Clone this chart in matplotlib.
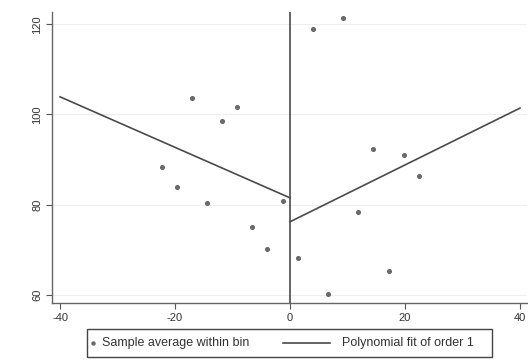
import matplotlib
matplotlib.use("Agg")
import matplotlib.pyplot as plt
from matplotlib.lines import Line2D
from matplotlib.patches import Rectangle

plt.rcParams['font.family'] = ['Liberation Sans', 'DejaVu Sans']

# Bin averages on each side of the cutoff
left_x = [-22.3, -19.7, -17.0, -14.4, -11.8, -9.2, -6.6, -4.0, -1.2]
left_y = [88.3, 83.9, 103.6, 80.4, 98.5, 101.6, 75.1, 70.2, 80.8]
right_x = [1.4, 4.0, 6.6, 9.2, 11.8, 14.4, 17.2, 19.8, 22.4]
right_y = [68.2, 118.9, 60.2, 121.4, 78.4, 92.3, 65.3, 91.0, 86.4]

# Linear fit endpoints on each side
fit_left_x = [-40, 0]
fit_left_y = [103.9, 81.5]
fit_right_x = [0, 40]
fit_right_y = [76.2, 101.4]

x_ticks = [-40, -20, 0, 20, 40]
y_ticks = [60, 80, 100, 120]
cutoff = 0
legend_labels = ['Sample average within bin', 'Polynomial fit of order 1']

W, H = 528, 361
fig = plt.figure(figsize=(W / 100, H / 100), dpi=100)
ax = fig.add_axes([0.0985, 0.1607, 0.9005, 0.806])

pt_color = '#6a6a6a'
ln_color = '#4a4a4a'

ax.scatter(left_x + right_x, left_y + right_y, s=7, color=pt_color, zorder=3)
ax.plot(fit_left_x, fit_left_y, color=ln_color, lw=1.2, zorder=2)
ax.plot(fit_right_x, fit_right_y, color=ln_color, lw=1.2, zorder=2)
ax.axvline(cutoff, color=ln_color, lw=1.2, zorder=2)

ax.set_xlim(-41.4, 41.3)
ax.set_ylim(58.2, 122.7)
ax.set_xticks(x_ticks)
ax.set_yticks(y_ticks)
ax.set_xticklabels([str(t) for t in x_ticks], fontsize=8)
ax.set_yticklabels([str(t) for t in y_ticks], fontsize=8,
                   rotation=90, va='center')
ax.tick_params(length=4, width=0.8, colors='#555555', pad=3)
for lbl in ax.get_xticklabels() + ax.get_yticklabels():
    lbl.set_color('#333333')

ax.grid(axis='y', color='#eeeeee', lw=0.8)
ax.set_axisbelow(True)
for side in ['top', 'right']:
    ax.spines[side].set_visible(False)
for side in ['left', 'bottom']:
    ax.spines[side].set_color('#666666')
    ax.spines[side].set_linewidth(1.0)


# Legend box below the plot, laid out in pixel units
def fx(px):
    return px / W


def fy(py):
    return 1 - py / H


fig.patches.append(Rectangle((fx(87), fy(357)), fx(492) - fx(87),
                             fy(329) - fy(357), transform=fig.transFigure,
                             facecolor='white', edgecolor='#444444', lw=1.0))
fig.lines.append(Line2D([fx(93)], [fy(343)], transform=fig.transFigure,
                        marker='o', markersize=2.2, color=pt_color, lw=0))
fig.text(fx(102), fy(343), legend_labels[0], fontsize=9, color='#333333',
         va='center', ha='left')
fig.lines.append(Line2D([fx(283), fx(330)], [fy(343), fy(343)],
                        transform=fig.transFigure, color=ln_color, lw=1.2))
fig.text(fx(342), fy(343), legend_labels[1], fontsize=9, color='#333333',
         va='center', ha='left')

fig.savefig('out.png', dpi=100, facecolor='white')
